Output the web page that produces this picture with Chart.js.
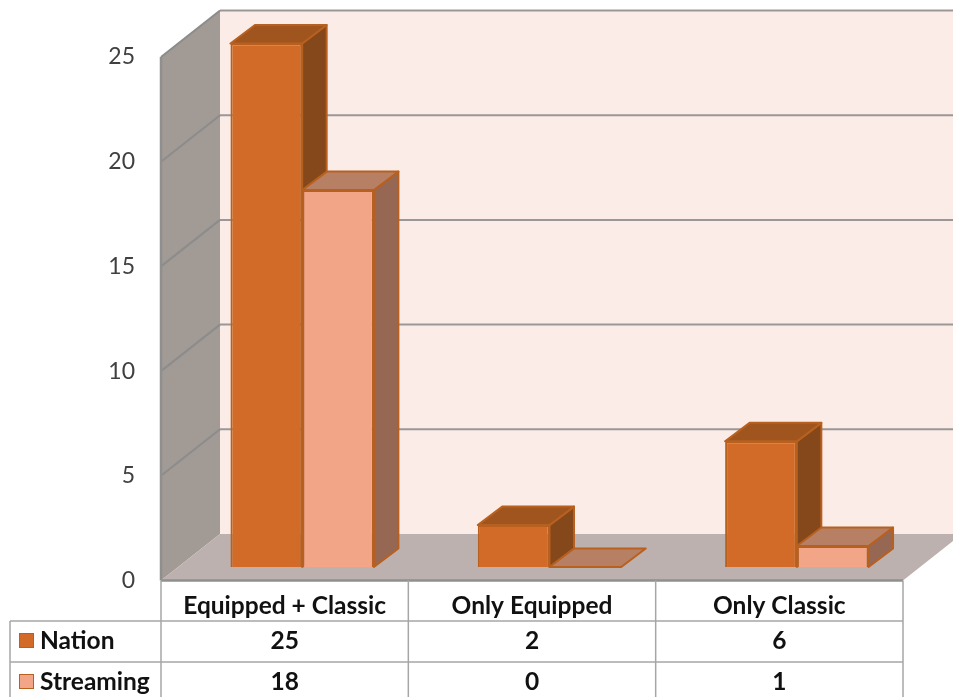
<!DOCTYPE html>
<html>
<head>
<meta charset="utf-8">
<style>html,body{margin:0;padding:0;background:#fff;overflow:hidden}canvas{display:block}</style>
<script src="https://cdn.jsdelivr.net/npm/chart.js@4"></script>
</head>
<body>
<canvas id="c" width="953" height="697"></canvas>
<script>
const categories = ['Equipped + Classic', 'Only Equipped', 'Only Classic'];
const nationValues = [25, 2, 6];
const streamingValues = [18, 0, 1];
const seriesNames = ['Nation', 'Streaming'];
const tableFont = 'bold 24.5px Lato';
const fill = ['#d26b27', '#f2a587'];
const topFill = ['#a0551e', '#b78064'];
const sideFill = ['#85481a', '#966854'];
const edge = '#b8601f';
const DEPTH = {x: 59, y: 46.5}, SHIFT = {x: 17.5, y: -13.5}, BAR = {x: 24.5, y: 18.5};
const poly = (ctx, pts, f, s, lw) => {
  ctx.beginPath();
  pts.forEach((p, i) => i ? ctx.lineTo(p[0], p[1]) : ctx.moveTo(p[0], p[1]));
  ctx.closePath();
  if (f) { ctx.fillStyle = f; ctx.fill(); }
  if (s) { ctx.strokeStyle = s; ctx.lineWidth = lw; ctx.stroke(); }
};
const scene = {
  id: 'scene',
  beforeDatasetsDraw(chart) {
    const {ctx, scales: {x, y}} = chart;
    const L = x.left, R = x.right, B = y.bottom, T = y.top, dx = DEPTH.x, dy = DEPTH.y;
    ctx.save();
    poly(ctx, [[L + dx, T - dy], [R + dx, T - dy], [R + dx, B - dy], [L + dx, B - dy]], '#fbece8');
    poly(ctx, [[L, T], [L + dx, T - dy], [L + dx, B - dy], [L, B]], '#a19a95');
    poly(ctx, [[L, B], [L + dx, B - dy], [R + dx, B - dy], [R, B]], '#bdb1af');
    ctx.lineWidth = 2;
    y.ticks.forEach((t) => {
      const py = y.getPixelForValue(t.value);
      if (t.value > 0) {
        ctx.strokeStyle = '#8c8c8c';
        ctx.beginPath(); ctx.moveTo(L, py); ctx.lineTo(L + dx, py - dy); ctx.stroke();
        ctx.strokeStyle = '#9c9797';
        ctx.beginPath(); ctx.moveTo(L + dx, py - dy); ctx.lineTo(R + dx, py - dy); ctx.stroke();
      }
    });
    ctx.strokeStyle = '#8f8f8f'; ctx.lineWidth = 2.5;
    ctx.beginPath(); ctx.moveTo(L, B); ctx.lineTo(L, T); ctx.stroke();
    ctx.beginPath(); ctx.moveTo(L, B); ctx.lineTo(R, B); ctx.stroke();
    // table rules
    ctx.strokeStyle = '#a6a6a6'; ctx.lineWidth = 1.5;
    const step = (R - L) / categories.length;
    for (let i = 0; i <= categories.length; i++) {
      ctx.beginPath(); ctx.moveTo(L + step * i, B); ctx.lineTo(L + step * i, 697); ctx.stroke();
    }
    [621, 662].forEach((ry) => { ctx.beginPath(); ctx.moveTo(10, ry); ctx.lineTo(R, ry); ctx.stroke(); });
    ctx.beginPath(); ctx.moveTo(10, 621); ctx.lineTo(10, 697); ctx.stroke();
    // table text
    ctx.fillStyle = '#111'; ctx.font = tableFont; ctx.textBaseline = 'middle'; ctx.textAlign = 'center';
    [nationValues, streamingValues].forEach((vals, r) => {
      vals.forEach((v, i) => ctx.fillText(String(v), x.getPixelForValue(i), [641, 682][r]));
    });
    ctx.textAlign = 'left';
    seriesNames.forEach((n, r) => {
      const sy = [633, 674][r];
      ctx.fillStyle = fill[r]; ctx.fillRect(19, sy, 15, 15);
      ctx.strokeStyle = edge; ctx.lineWidth = 1; ctx.strokeRect(19.5, sy + .5, 14, 14);
      ctx.fillStyle = '#111';
      ctx.fillText(n, 40, [641, 682][r]);
    });
    ctx.restore();
    // bars are drawn on the bar plane, set back from the front of the box
    ctx.save();
    ctx.translate(SHIFT.x, SHIFT.y);
    [0, 1].forEach((d) => {
      chart.getDatasetMeta(d).data.forEach((el) => {
        const {x: cx, y: top, base, width} = el.getProps(['x', 'y', 'base', 'width'], true);
        const l = cx - width / 2, r = cx + width / 2;
        ctx.lineJoin = 'round';
        poly(ctx, [[r, top], [r + BAR.x, top - BAR.y], [r + BAR.x, base - BAR.y], [r, base]], base > top ? sideFill[d] : null, base > top ? edge : null, 2);
        poly(ctx, [[l, top], [l + BAR.x, top - BAR.y], [r + BAR.x, top - BAR.y], [r, top]], topFill[d], edge, 2);
      });
    });
  },
  afterDatasetsDraw(chart) {
    chart.ctx.restore();
  }
};
new Chart(document.getElementById('c'), {
  type: 'bar',
  data: {
    labels: categories,
    datasets: [
      {label: seriesNames[0], data: nationValues, backgroundColor: fill[0], borderColor: edge, borderWidth: 2, clip: false},
      {label: seriesNames[1], data: streamingValues, backgroundColor: fill[1], borderColor: edge, borderWidth: 2, clip: false}
    ]
  },
  options: {
    responsive: false,
    animation: false,
    events: [],
    layout: {padding: {top: 57, right: 50, left: 0, bottom: 0}},
    datasets: {bar: {barPercentage: 1, categoryPercentage: 0.58}},
    plugins: {legend: {display: false}, tooltip: {enabled: false}},
    scales: {
      x: {
        afterFit(s) { s.height = 116.5; },
        grid: {display: false},
        border: {display: false},
        ticks: {font: {family: 'Lato', size: 24.5, weight: 'bold'}, color: '#111', padding: 3, maxRotation: 0, autoSkip: false}
      },
      y: {
        min: 0, max: 25,
        afterFit(s) { s.width = 161; },
        grid: {display: false},
        border: {display: false},
        ticks: {stepSize: 5, font: {family: 'Lato', size: 23}, color: '#404040', padding: 18}
      }
    }
  },
  plugins: [scene]
});
</script>
</body>
</html>
